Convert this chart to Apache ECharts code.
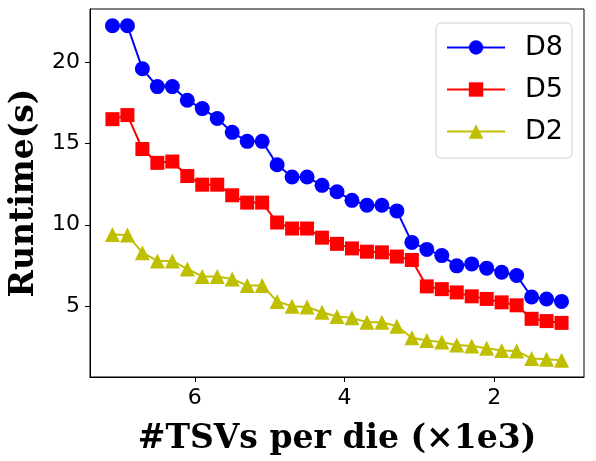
<!DOCTYPE html>
<html>
<head>
<meta charset="utf-8">
<script src="https://cdn.jsdelivr.net/npm/echarts@6/dist/echarts.min.js"></script>
<style>
  html, body { margin: 0; padding: 0; background: #fff; }
  #chart { width: 596px; height: 461px; }
</style>
</head>
<body>
<div id="chart"></div>
<script>
// #TSVs per die (x1e3), descending along the reversed axis
const tsvs = [7.1, 6.9, 6.7, 6.5, 6.3, 6.1, 5.9, 5.7, 5.5, 5.3, 5.1, 4.9, 4.7, 4.5, 4.3, 4.1,
              3.9, 3.7, 3.5, 3.3, 3.1, 2.9, 2.7, 2.5, 2.3, 2.1, 1.9, 1.7, 1.5, 1.3, 1.1];
const d8 = [22.21, 22.21, 19.57, 18.48, 18.48, 17.64, 17.13, 16.52, 15.67, 15.12, 15.12, 13.68,
            12.93, 12.93, 12.42, 12.03, 11.50, 11.20, 11.20, 10.85, 8.92, 8.49, 8.11, 7.48, 7.60,
            7.34, 7.09, 6.89, 5.57, 5.45, 5.30];
const d5 = [16.48, 16.73, 14.65, 13.80, 13.88, 12.99, 12.46, 12.46, 11.81, 11.36, 11.36, 10.14,
            9.77, 9.77, 9.21, 8.83, 8.55, 8.35, 8.31, 8.05, 7.84, 6.22, 6.05, 5.85, 5.61, 5.45,
            5.24, 5.06, 4.23, 4.09, 3.98];
const d2 = [9.41, 9.37, 8.29, 7.78, 7.78, 7.29, 6.83, 6.83, 6.68, 6.28, 6.28, 5.30, 5.00, 4.96,
            4.63, 4.37, 4.29, 4.02, 4.02, 3.78, 3.07, 2.90, 2.80, 2.62, 2.56, 2.42, 2.29, 2.26,
            1.79, 1.75, 1.69];
const xTicks = [2, 4, 6];
const yTicks = [5, 10, 15, 20];

const pairs = ys => tsvs.map((x, i) => [x, ys[i]]);

const tickFont = { fontFamily: 'DejaVu Sans', fontSize: 22, color: '#000' };
const nameFont = { fontFamily: 'DejaVu Serif', fontWeight: 'bold', fontSize: 33, color: '#000' };

function lineSeries(name, ys, color, symbol, size) {
  return {
    name, type: 'line', data: pairs(ys),
    symbol, symbolSize: size,
    lineStyle: { width: 2, color },
    itemStyle: { color },
    emphasis: { disabled: true },
    animation: false,
  };
}

const chart = echarts.init(document.getElementById('chart'), null, { renderer: 'canvas' });
chart.setOption({
  backgroundColor: '#fff',
  grid: { left: 90, right: 12, top: 9, bottom: 82, show: true, borderColor: '#000', borderWidth: 1 },
  xAxis: {
    type: 'value', inverse: true, min: 0.8, max: 7.4,
    name: '#TSVs per die (×1e3)', nameLocation: 'middle', nameGap: 46, nameTextStyle: nameFont,
    axisLine: { show: true, onZero: false, lineStyle: { color: '#000', width: 1 } },
    axisTick: { show: true, length: 5, lineStyle: { color: '#000' }, customValues: xTicks },
    axisLabel: { ...tickFont, margin: 10, customValues: xTicks },
    splitLine: { show: false },
  },
  yAxis: {
    type: 'value', min: 0.66, max: 23.24,
    name: 'Runtime(s)', nameLocation: 'middle', nameGap: 46, nameRotate: 90, nameTextStyle: nameFont,
    axisLine: { show: true, onZero: false, lineStyle: { color: '#000', width: 1 } },
    axisTick: { show: true, length: 5, lineStyle: { color: '#000' }, customValues: yTicks },
    axisLabel: { ...tickFont, margin: 10, customValues: yTicks },
    splitLine: { show: false },
  },
  legend: {
    orient: 'vertical', right: 24, top: 23,
    padding: [11, 9, 13, 10], itemGap: 15, itemWidth: 58, itemHeight: 18,
    backgroundColor: 'rgba(255,255,255,0.8)', borderColor: '#d0d0d0', borderWidth: 1, borderRadius: 5,
    textStyle: { fontFamily: 'DejaVu Sans', fontSize: 27, lineHeight: 27, color: '#000', padding: [0, 0, 0, 15] },
    data: ['D8', 'D5', 'D2'],
  },
  series: [
    lineSeries('D8', d8, '#0000ff', 'circle', 15),
    lineSeries('D5', d5, '#ff0000', 'rect', 14),
    lineSeries('D2', d2, '#bfbf00', 'triangle', 15),
  ],
});
</script>
</body>
</html>
